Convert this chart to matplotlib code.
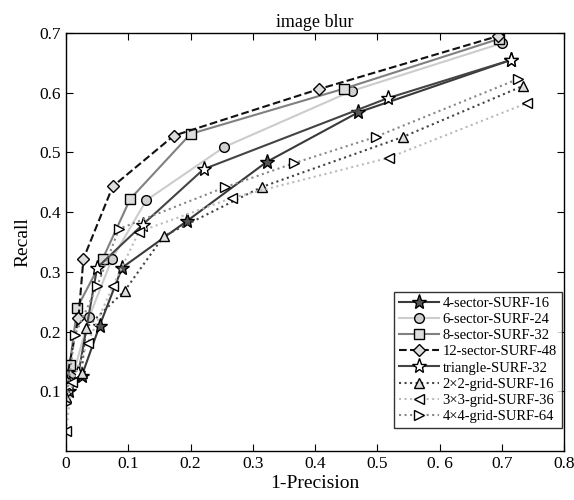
import matplotlib
matplotlib.use("Agg")
import matplotlib.pyplot as plt

# 1-Precision / Recall pairs
x_4sec = [0.005, 0.025, 0.054, 0.09, 0.194, 0.322, 0.469, 0.715]
y_4sec = [0.10, 0.125, 0.21, 0.307, 0.385, 0.484, 0.567, 0.655]
x_6sec = [0.0, 0.012, 0.037, 0.074, 0.129, 0.254, 0.459, 0.70]
y_6sec = [0.10, 0.13, 0.224, 0.322, 0.42, 0.509, 0.603, 0.683]
x_8sec = [0.0, 0.006, 0.018, 0.059, 0.103, 0.2, 0.447, 0.695]
y_8sec = [0.11, 0.144, 0.24, 0.322, 0.422, 0.531, 0.607, 0.69]
x_12sec = [0.0, 0.02, 0.028, 0.075, 0.173, 0.406, 0.694]
y_12sec = [0.115, 0.223, 0.322, 0.443, 0.528, 0.606, 0.695]
x_tri = [0.005, 0.02, 0.05, 0.123, 0.221, 0.517, 0.715]
y_tri = [0.11, 0.13, 0.307, 0.379, 0.472, 0.591, 0.655]
x_2x2 = [0.0, 0.025, 0.032, 0.094, 0.157, 0.314, 0.541, 0.733]
y_2x2 = [0.09, 0.13, 0.206, 0.268, 0.36, 0.442, 0.526, 0.611]
x_3x3 = [0.0, 0.01, 0.035, 0.075, 0.117, 0.267, 0.518, 0.741]
y_3x3 = [0.033, 0.116, 0.181, 0.276, 0.367, 0.424, 0.491, 0.583]
x_4x4 = [0.0, 0.014, 0.05, 0.085, 0.256, 0.366, 0.497, 0.726]
y_4x4 = [0.08, 0.194, 0.276, 0.372, 0.442, 0.482, 0.526, 0.623]

x_ticks = [0, 0.1, 0.2, 0.3, 0.4, 0.5, 0.6, 0.7, 0.8]
x_tick_labels = ["0", "0.1", "0.2", "0.3", "0.4", "0.5", "0. 6", "0.7", "0.8"]
y_ticks = [0.1, 0.2, 0.3, 0.4, 0.5, 0.6, 0.7]

plt.rcParams["font.family"] = ["Liberation Serif", "DejaVu Serif"]

series = [
    (x_4sec, y_4sec, "4-sector-SURF-16", "#3a3a3a", "-", "*", "#555555", 11),
    (x_6sec, y_6sec, "6-sector-SURF-24", "#cccccc", "-", "o", "#d0d0d0", 7),
    (x_8sec, y_8sec, "8-sector-SURF-32", "#808080", "-", "s", "#dddddd", 7),
    (x_12sec, y_12sec, "12-sector-SURF-48", "#111111", "--", "D", "#dddddd", 6),
    (x_tri, y_tri, "triangle-SURF-32", "#444444", "-", "*", "white", 11),
    (x_2x2, y_2x2, "2\u00d72-grid-SURF-16", "#444444", ":", "^", "#dddddd", 7),
    (x_3x3, y_3x3, "3\u00d73-grid-SURF-36", "#bbbbbb", ":", "<", "white", 7),
    (x_4x4, y_4x4, "4\u00d74-grid-SURF-64", "#888888", ":", ">", "white", 7),
]

fig = plt.figure(figsize=(5.74, 5.0), dpi=100)
ax = fig.add_axes([0.115, 0.098, 0.868, 0.836])

for xs, ys, label, color, ls, marker, face, ms in series:
    ax.plot(xs, ys, linestyle=ls, color=color, linewidth=1.5,
            marker=marker, markersize=ms, markerfacecolor=face,
            markeredgecolor="black", markeredgewidth=1.0, label=label)

ax.set_xlim(0, 0.8)
ax.set_ylim(0, 0.7)
ax.set_xticks(x_ticks)
ax.set_xticklabels(x_tick_labels)
ax.set_yticks(y_ticks)
ax.tick_params(direction="in", top=True, right=True, labelsize=12.5, length=5)
for sp in ax.spines.values():
    sp.set_linewidth(1.0)

ax.set_title("image blur", fontsize=13, pad=4)
ax.set_xlabel("1-Precision", fontsize=14, labelpad=2)
ax.set_ylabel("Recall", fontsize=14, labelpad=6)

leg = ax.legend(loc="lower right", bbox_to_anchor=(0.995, 0.055),
                fontsize=10.5, frameon=True, fancybox=False,
                edgecolor="black", borderpad=0.35, labelspacing=0.2,
                handlelength=2.8, handletextpad=0.2, borderaxespad=0.0)
leg.get_frame().set_linewidth(1.0)

fig.savefig("out.png", dpi=100)
